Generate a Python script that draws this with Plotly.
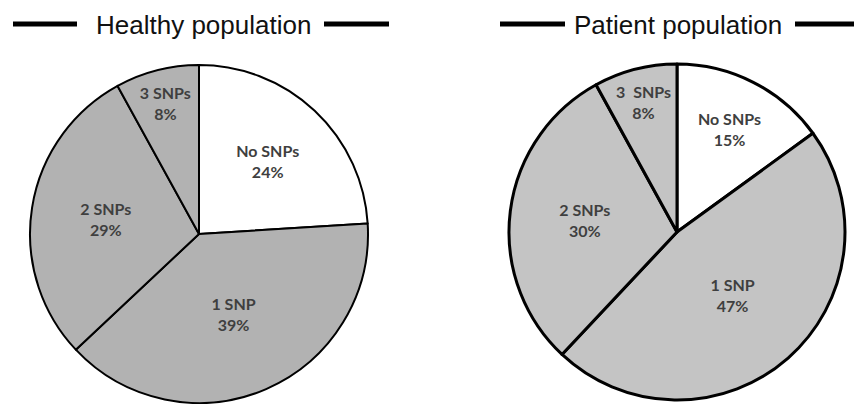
import plotly.graph_objects as go

labels = ["No SNPs", "1 SNP", "2 SNPs", "3 SNPs"]
healthy_values = [24, 39, 29, 8]
patient_values = [15, 47, 30, 8]
patient_labels = ["No SNPs", "1 SNP", "2 SNPs", "3  SNPs"]
titles = ["Healthy population", "Patient population"]

W, H = 854, 404

def px(x):
    return x / W

def py(y):
    return 1 - y / H

fig = go.Figure()

fig.add_trace(go.Pie(
    labels=labels, values=healthy_values, sort=False, direction="clockwise", rotation=0,
    marker=dict(colors=["#ffffff", "#b2b2b2", "#b2b2b2", "#b2b2b2"], line=dict(color="#000000", width=2)),
    texttemplate="%{label}<br>%{value}%", textposition="inside", insidetextorientation="horizontal",
    textfont=dict(family="Lato", size=16, color="#3f3f3f", weight="bold"),
    domain=dict(x=[px(30), px(368)], y=[py(403), py(65)]),
    showlegend=False, hoverinfo="label+value",
))

fig.add_trace(go.Pie(
    labels=patient_labels, values=patient_values, sort=False, direction="clockwise", rotation=0,
    marker=dict(colors=["#ffffff", "#c4c4c4", "#c4c4c4", "#c4c4c4"], line=dict(color="#000000", width=3)),
    texttemplate="%{label}<br>%{value}%", textposition="inside", insidetextorientation="horizontal",
    textfont=dict(family="Lato", size=16, color="#3f3f3f", weight="bold"),
    domain=dict(x=[px(509), px(845)], y=[py(400), py(64)]),
    showlegend=False, hoverinfo="label+value",
))

# titles
fig.add_annotation(text=titles[0], x=px(203), y=py(25), xref="paper", yref="paper",
                   xanchor="center", yanchor="middle",
                   showarrow=False, font=dict(family="Liberation Sans", size=26, color="#111111"))
fig.add_annotation(text=titles[1], x=px(678), y=py(25), xref="paper", yref="paper",
                   xanchor="center", yanchor="middle",
                   showarrow=False, font=dict(family="Liberation Sans", size=26, color="#111111"))

for x0, x1 in [(13, 77), (324, 389), (500, 565), (795, 860)]:
    fig.add_shape(type="line", xref="paper", yref="paper", x0=px(x0), x1=px(x1), y0=py(24), y1=py(24),
                  line=dict(color="#000000", width=5))

fig.update_layout(
    width=W, height=H, margin=dict(l=0, r=0, t=0, b=0),
    paper_bgcolor="#ffffff", plot_bgcolor="#ffffff",
    uniformtext=dict(minsize=16, mode="show"),
)

fig.write_html("out.html", config={"displayModeBar": False},
               post_script="document.body.style.margin='0';")
